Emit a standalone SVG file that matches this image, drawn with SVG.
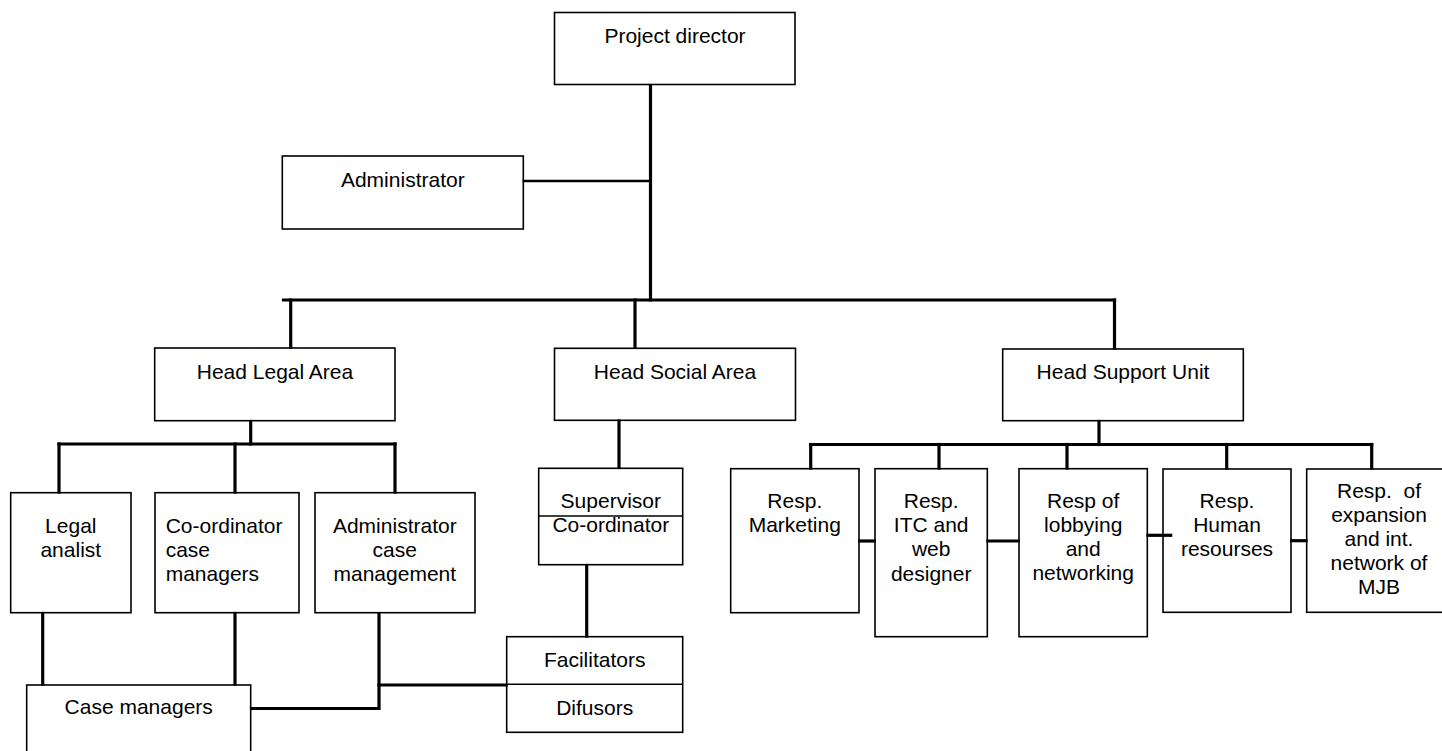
<svg xmlns="http://www.w3.org/2000/svg" width="1442" height="751" viewBox="0 0 1442 751">
  <style>
    .box { fill: #fff; stroke: #000; stroke-width: 1.6; }
    .div { stroke: #000; stroke-width: 1.6; }
    .lbl { font-family: "Liberation Sans", Arial, sans-serif; font-size: 21px; fill: #000; text-anchor: middle; }
    .left { text-anchor: start; }
    .pre { white-space: pre; }
    .wire { fill: none; stroke: #000; stroke-width: 3.2; stroke-linecap: square; stroke-linejoin: miter; }
    .thin { stroke-width: 2.6; }
  </style>

  <rect width="1442" height="751" fill="#fff"/>

  <!-- nodes -->
  <g id="project-director">
    <rect class="box" x="554.5" y="12.5" width="240.5" height="72"/>
    <text class="lbl" x="675" y="42.5">Project director</text>
  </g>

  <g id="administrator">
    <rect class="box" x="282.3" y="156" width="241" height="73"/>
    <text class="lbl" x="402.8" y="187.3">Administrator</text>
  </g>

  <g id="head-legal">
    <rect class="box" x="154.7" y="348" width="240.3" height="72.7"/>
    <text class="lbl" x="275" y="379">Head Legal Area</text>
  </g>

  <g id="head-social">
    <rect class="box" x="554.5" y="348.3" width="241" height="72"/>
    <text class="lbl" x="675" y="378.5">Head Social Area</text>
  </g>

  <g id="head-support">
    <rect class="box" x="1002.7" y="349" width="240.6" height="71.7"/>
    <text class="lbl" x="1123" y="379">Head Support Unit</text>
  </g>

  <g id="legal-analist">
    <rect class="box" x="10.7" y="492.7" width="120.3" height="120"/>
    <text class="lbl" x="70.8" y="533.3">Legal</text>
    <text class="lbl" x="70.8" y="557">analist</text>
  </g>

  <g id="coordinator-case-managers">
    <rect class="box" x="155" y="492.7" width="144" height="120"/>
    <text class="lbl left" x="165.7" y="533.3">Co-ordinator</text>
    <text class="lbl left" x="165.7" y="557.3">case</text>
    <text class="lbl left" x="165.7" y="581.3">managers</text>
  </g>

  <g id="administrator-case-management">
    <rect class="box" x="315" y="492.7" width="160" height="120"/>
    <text class="lbl" x="394.8" y="533.3">Administrator</text>
    <text class="lbl" x="394.8" y="557.3">case</text>
    <text class="lbl" x="394.8" y="581.3">management</text>
  </g>

  <g id="case-managers">
    <rect class="box" x="26.7" y="685" width="224" height="80"/>
    <text class="lbl" x="138.7" y="714.3">Case managers</text>
  </g>

  <g id="supervisor-coordinator">
    <rect class="box" x="538.7" y="468.3" width="144" height="96.4"/>
    <line class="div" x1="538.7" y1="516" x2="682.7" y2="516"/>
    <text class="lbl" x="610.8" y="507.7">Supervisor</text>
    <text class="lbl" x="610.8" y="532.3">Co-ordinator</text>
  </g>

  <g id="facilitators-difusors">
    <rect class="box" x="506.7" y="636.7" width="176" height="95.6"/>
    <line class="div" x1="506.7" y1="684.3" x2="682.7" y2="684.3"/>
    <text class="lbl" x="594.7" y="666.7">Facilitators</text>
    <text class="lbl" x="594.7" y="715">Difusors</text>
  </g>

  <g id="resp-marketing">
    <rect class="box" x="730.7" y="468.7" width="128.3" height="144"/>
    <text class="lbl" x="794.8" y="507.7">Resp.</text>
    <text class="lbl" x="794.8" y="532.3">Marketing</text>
  </g>

  <g id="resp-itc">
    <rect class="box" x="875" y="468.7" width="112.3" height="168"/>
    <text class="lbl" x="931.2" y="507.7">Resp.</text>
    <text class="lbl" x="931.2" y="532">ITC and</text>
    <text class="lbl" x="931.2" y="556.3">web</text>
    <text class="lbl" x="931.2" y="580.7">designer</text>
  </g>

  <g id="resp-lobbying">
    <rect class="box" x="1019" y="468.7" width="128.3" height="168"/>
    <text class="lbl" x="1083.2" y="508.3">Resp of</text>
    <text class="lbl" x="1083.2" y="532.3">lobbying</text>
    <text class="lbl" x="1083.2" y="556.3">and</text>
    <text class="lbl" x="1083.2" y="580.3">networking</text>
  </g>

  <g id="resp-human-resourses">
    <rect class="box" x="1163" y="469" width="128" height="143.3"/>
    <text class="lbl" x="1227" y="507.7">Resp.</text>
    <text class="lbl" x="1227" y="532">Human</text>
    <text class="lbl" x="1227" y="556.3">resourses</text>
  </g>

  <g id="resp-expansion">
    <rect class="box" x="1306.7" y="469" width="144" height="143.3"/>
    <text class="lbl pre" x="1379" y="498.3">Resp.  of</text>
    <text class="lbl" x="1379" y="522.3">expansion</text>
    <text class="lbl" x="1379" y="546.3">and int.</text>
    <text class="lbl" x="1379" y="570.3">network of</text>
    <text class="lbl" x="1379" y="594.3">MJB</text>
  </g>

  <!-- connectors -->
  <g id="connectors">
    <!-- director spine and top-level bus -->
    <path class="wire" d="M650.5 85.5 V300"/>
    <path class="wire thin" d="M524 181 H650"/>
    <path class="wire" d="M283.5 300 H1114.5"/>
    <path class="wire" d="M290.7 300 V347"/>
    <path class="wire" d="M635 300 V347"/>
    <path class="wire" d="M1114.5 300 V348"/>

    <!-- legal area -->
    <path class="wire" d="M250.7 421.5 V444"/>
    <path class="wire" d="M59 444 H395"/>
    <path class="wire" d="M59 444 V492"/>
    <path class="wire" d="M235 444 V492"/>
    <path class="wire" d="M395 444 V492"/>
    <path class="wire" d="M42.7 613.5 V684"/>
    <path class="wire" d="M235 613.5 V684"/>
    <path class="wire" d="M379 613.5 V708.5 H251.5"/>
    <path class="wire" d="M379 685 H506"/>

    <!-- social area -->
    <path class="wire" d="M619 421 V467.5"/>
    <path class="wire" d="M586.7 565.5 V636"/>

    <!-- support unit -->
    <path class="wire" d="M1099 421.5 V444.5"/>
    <path class="wire" d="M810.7 444.5 H1371.7"/>
    <path class="wire" d="M810.7 444.5 V468"/>
    <path class="wire" d="M939 444.5 V468"/>
    <path class="wire" d="M1067 444.5 V468"/>
    <path class="wire" d="M1226.7 444.5 V468"/>
    <path class="wire" d="M1371.7 444.5 V468"/>
    <path class="wire" d="M859.8 541 H874.2"/>
    <path class="wire" d="M988 541 H1018.2"/>
    <path class="wire" d="M1148 535.3 H1170.7"/>
    <path class="wire" d="M1291.8 540.7 H1306"/>
  </g>
</svg>
